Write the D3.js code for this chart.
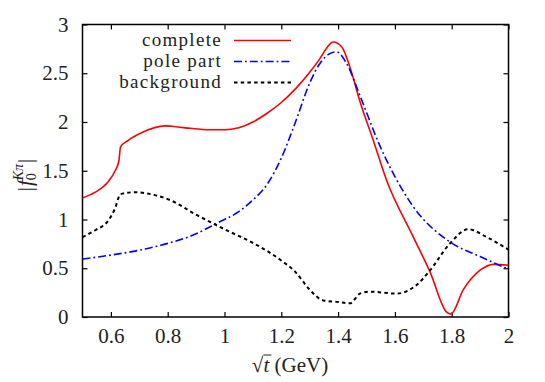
<!DOCTYPE html>
<html>
<head>
<meta charset="utf-8">
<script src="https://cdn.jsdelivr.net/npm/d3@7"></script>
<style>
	body { margin: 0; background: #fff; }
	text { font-family: "Liberation Serif", serif; fill: #222; }
</style>
</head>
<body>
<div id="viz"></div>
<script>
// |f0^Kpi| vs sqrt(t)
var completeX = [0.5, 0.545, 0.591, 0.615, 0.628, 0.634, 0.66, 0.708, 0.79, 0.861, 0.95, 1.0, 1.05, 1.1, 1.15, 1.2, 1.25, 1.3, 1.336, 1.36, 1.383, 1.413, 1.442, 1.477, 1.524, 1.571, 1.665, 1.724, 1.782, 1.797, 1.841, 1.9, 1.947, 2.0];
var completeY = [1.22, 1.28, 1.39, 1.50, 1.60, 1.745, 1.81, 1.89, 1.96, 1.94, 1.92, 1.92, 1.94, 2.0, 2.09, 2.2, 2.34, 2.51, 2.65, 2.76, 2.82, 2.77, 2.56, 2.21, 1.81, 1.40, 0.82, 0.46, 0.05, 0.03, 0.28, 0.48, 0.54, 0.53];

var poleX = [0.5, 0.6, 0.7, 0.8, 0.89, 0.972, 1.05, 1.1, 1.15, 1.2, 1.25, 1.3, 1.336, 1.37, 1.395, 1.43, 1.477, 1.548, 1.6, 1.665, 1.794, 1.9, 2.0];
var poleY = [0.594, 0.635, 0.685, 0.755, 0.84, 0.96, 1.08, 1.20, 1.36, 1.63, 2.0, 2.40, 2.60, 2.70, 2.72, 2.60, 2.27, 1.75, 1.44, 1.13, 0.77, 0.62, 0.49];

var backgroundX = [0.5, 0.545, 0.591, 0.614, 0.634, 0.685, 0.755, 0.808, 0.9, 1.0, 1.1, 1.195, 1.25, 1.3, 1.348, 1.40, 1.442, 1.477, 1.512, 1.606, 1.677, 1.724, 1.794, 1.858, 1.923, 2.0];
var backgroundY = [0.82, 0.89, 0.99, 1.11, 1.26, 1.28, 1.25, 1.20, 1.05, 0.90, 0.76, 0.59, 0.46, 0.28, 0.17, 0.155, 0.14, 0.24, 0.26, 0.24, 0.33, 0.48, 0.755, 0.90, 0.82, 0.69];

var xTicks = [0.6, 0.8, 1, 1.2, 1.4, 1.6, 1.8, 2];
var yTicks = [0, 0.5, 1, 1.5, 2, 2.5, 3];

var series = [
	{ name: 'complete', xs: completeX, ys: completeY, color: '#ff0000', dash: null, width: 1.6 },
	{ name: 'pole part', xs: poleX, ys: poleY, color: '#0000ff', dash: '8,3,1.8,3', width: 1.6 },
	{ name: 'background', xs: backgroundX, ys: backgroundY, color: '#000000', dash: '3.5,3.2', width: 2 }
];

buildViz();

function buildViz(){

	var width = 545,
			height = 382,
			left = 82.5, right = 508.5, top = 24.5, bottom = 317,
			fontSize = '21px';

	var svg = d3.select('#viz')
		.append('svg')
		.attr('width', width)
		.attr('height', height);

	var x = d3.scaleLinear().domain([0.5, 2]).range([left, right]);
	var y = d3.scaleLinear().domain([0, 3]).range([bottom, top]);

	svg.append('clipPath').attr('id', 'clip')
		.append('rect')
			.attr('x', left).attr('y', top)
			.attr('width', right-left).attr('height', bottom-top);

	// axes, ticks pointing inwards, mirrored on top and right
	var fmt = d3.format('~g');

	svg.append('g')
		.attr('transform', 'translate(0,'+bottom+')')
		.call(d3.axisBottom(x).tickValues(xTicks).tickSize(-5).tickSizeOuter(0).tickPadding(11).tickFormat(fmt));
	svg.append('g')
		.attr('transform', 'translate(0,'+top+')')
		.call(d3.axisTop(x).tickValues(xTicks).tickSize(-5).tickSizeOuter(0).tickFormat(''));
	svg.append('g')
		.attr('transform', 'translate('+left+',0)')
		.call(d3.axisLeft(y).tickValues(yTicks).tickSize(-5).tickSizeOuter(0).tickPadding(14).tickFormat(fmt));
	svg.append('g')
		.attr('transform', 'translate('+right+',0)')
		.call(d3.axisRight(y).tickValues(yTicks).tickSize(-5).tickSizeOuter(0).tickFormat(''));

	svg.selectAll('.domain').remove();
	svg.selectAll('.tick line').style('stroke', '#000').style('stroke-width', 1.2);
	svg.selectAll('.tick text')
		.style('font-family', '"Liberation Serif", serif')
		.style('font-size', fontSize)
		.style('fill', '#222');

	svg.append('rect')
		.attr('x', left).attr('y', top)
		.attr('width', right-left).attr('height', bottom-top)
		.style('fill', 'none')
		.style('stroke', '#000')
		.style('stroke-width', 1.5);

	// curves
	var plot = svg.append('g').attr('clip-path', 'url(#clip)');

	series.forEach(function(s){
		var pts = s.xs.map(function(v, i){ return [v, s.ys[i]]; });
		var line = d3.line()
			.x(function(d){ return x(d[0]); })
			.y(function(d){ return y(d[1]); })
			.curve(d3.curveMonotoneX);
		plot.append('path')
			.attr('d', line(pts))
			.style('fill', 'none')
			.style('stroke', s.color)
			.style('stroke-width', s.width)
			.style('stroke-dasharray', s.dash);
	});

	// legend
	var legend = svg.append('g');
	var rows = [40.5, 61.5, 82.5];

	legend.selectAll('.legend-text')
		.data(series)
		.enter().append('text')
			.attr('x', 222)
			.attr('y', function(d,i){ return rows[i]; })
			.attr('dy', '0.3em')
			.attr('text-anchor', 'end')
			.style('font-size', '19px')
			.style('letter-spacing', '1.3px')
			.text(function(d){ return d.name; });

	legend.selectAll('.legend-line')
		.data(series)
		.enter().append('line')
			.attr('x1', 234).attr('x2', 291)
			.attr('y1', function(d,i){ return rows[i]; })
			.attr('y2', function(d,i){ return rows[i]; })
			.style('stroke', function(d){ return d.color; })
			.style('stroke-width', function(d){ return d.width; })
			.style('stroke-dasharray', function(d){ return d.dash; });

	// x title: sqrt(t) (GeV)
	var xt = svg.append('text')
		.attr('x', 290)
		.attr('y', 372)
		.attr('text-anchor', 'middle')
		.style('font-size', fontSize);
	xt.append('tspan').text('\u221A');
	var tt = xt.append('tspan').style('font-style', 'italic').text('t');
	xt.append('tspan').text(' (GeV)');
	var bb = tt.node().getBBox();
	svg.append('line')
		.attr('x1', bb.x).attr('x2', bb.x + bb.width + 1)
		.attr('y1', bb.y + 2).attr('y2', bb.y + 2)
		.style('stroke', '#222')
		.style('stroke-width', 1);

	// y title: |f_0^{K pi}|
	var yt = svg.append('text')
		.attr('transform', 'translate(32,175) rotate(-90)')
		.attr('text-anchor', 'middle')
		.style('font-size', fontSize);
	yt.append('tspan').text('|');
	yt.append('tspan').attr('dx', 1).style('font-style', 'italic').text('f');
	yt.append('tspan').attr('dy', 4).style('font-size', '14px').text('0');
	yt.append('tspan').attr('dx', -7).attr('dy', -13).style('font-size', '14px').style('font-style', 'italic').text('K\u03C0');
	yt.append('tspan').attr('dx', 1).attr('dy', 9).text('|');
}
</script>
</body>
</html>
